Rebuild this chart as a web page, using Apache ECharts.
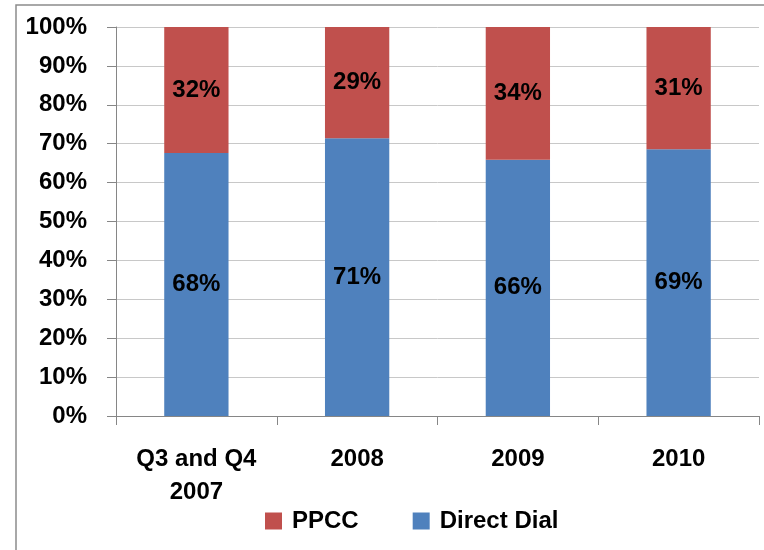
<!DOCTYPE html>
<html>
<head>
<meta charset="utf-8">
<script src="https://cdn.jsdelivr.net/npm/echarts@6/dist/echarts.min.js"></script>
<style>
  html, body { margin: 0; padding: 0; background: #fff; }
  #chart-container { width: 764px; height: 550px; }
</style>
</head>
<body>
<div id="chart-container"></div>
<script>
var categories = ['Q3 and Q4\n2007', '2008', '2009', '2010'];
var directDial = [67.6, 71.4, 65.9, 68.6];
var ppcc = [32.4, 28.6, 34.1, 31.4];
var yTicks = [0, 10, 20, 30, 40, 50, 60, 70, 80, 90, 100];

var dom = document.getElementById('chart-container');
var myChart = echarts.init(dom);

var font = "'Liberation Sans', Arial, sans-serif";

var labelStyle = {
  show: true,
  position: 'inside',
  color: '#000',
  fontFamily: font,
  fontWeight: 'bold',
  fontSize: 24,
  formatter: function (p) {
    return Math.round(p.value) + '%';
  }
};

var option = {
  animation: false,
  backgroundColor: '#fff',
  graphic: [{
    type: 'rect',
    shape: { x: 16, y: 5, width: 800, height: 600 },
    style: { fill: 'none', stroke: '#8c8c8c', lineWidth: 1.5 },
    silent: true
  }],
  grid: { left: 116, right: 5, top: 27, bottom: 134 },
  legend: {
    data: ['PPCC', 'Direct Dial'],
    bottom: 12,
    left: 260,
    itemWidth: 17,
    itemHeight: 17,
    itemGap: 54,
    icon: 'rect',
    textStyle: {
      fontFamily: font, fontWeight: 'bold', fontSize: 24, color: '#000',
      padding: [0, 0, 0, 5]
    }
  },
  xAxis: {
    type: 'category',
    data: categories,
    axisLine: { lineStyle: { color: '#868686' } },
    axisTick: { show: true, interval: 0, length: 9, alignWithLabel: false, lineStyle: { color: '#868686' } },
    axisLabel: {
      interval: 0,
      color: '#000', fontFamily: font, fontWeight: 'bold', fontSize: 24,
      margin: 27, lineHeight: 33
    }
  },
  yAxis: {
    type: 'value',
    min: 0,
    max: 100,
    interval: 10,
    axisLine: { show: true, lineStyle: { color: '#868686' } },
    axisTick: { show: true, length: 9, lineStyle: { color: '#868686' } },
    splitLine: { lineStyle: { color: '#c8c8c8' } },
    axisLabel: {
      color: '#000', fontFamily: font, fontWeight: 'bold', fontSize: 24, margin: 29,
      formatter: function (v) {
        return yTicks.indexOf(v) >= 0 ? v + '%' : '';
      }
    }
  },
  series: [
    {
      name: 'Direct Dial',
      type: 'bar',
      stack: 'total',
      barCategoryGap: '60%',
      data: directDial,
      itemStyle: { color: '#4f81bd' },
      label: labelStyle
    },
    {
      name: 'PPCC',
      type: 'bar',
      stack: 'total',
      barCategoryGap: '60%',
      data: ppcc,
      itemStyle: { color: '#c0504d' },
      label: labelStyle
    }
  ]
};

myChart.setOption(option);
</script>
</body>
</html>
